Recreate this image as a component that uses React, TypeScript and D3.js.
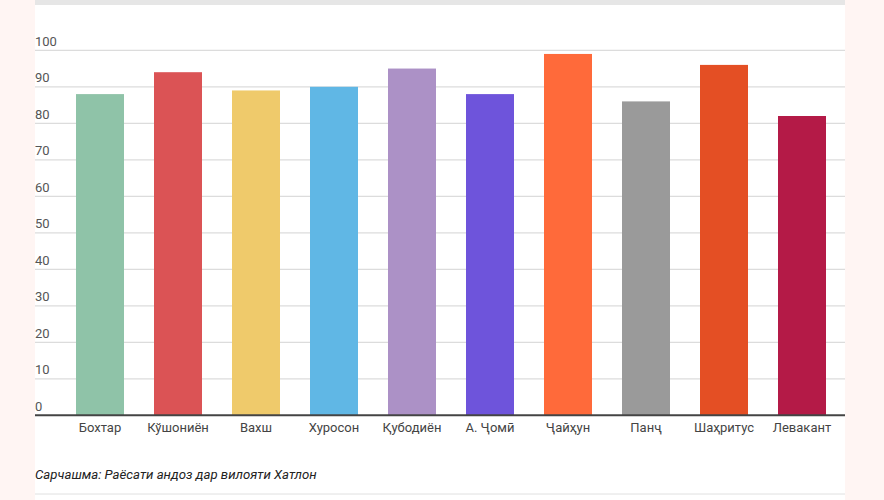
import React from "react";
import * as d3 from "d3";

const categories = ["Бохтар", "Кўшониён", "Вахш", "Хуросон", "Қубодиён", "А. Ҷомӣ", "Ҷайҳун", "Панҷ", "Шаҳритус", "Левакант"];
const values = [88, 94, 89, 90, 95, 88, 99, 86, 96, 82];
const colors = ["#8fc3a8", "#db5355", "#efca6b", "#60b7e5", "#ac91c6", "#6e54db", "#ff6a3a", "#9a9a9a", "#e44f24", "#b41a47"];
const yTicks = [0, 10, 20, 30, 40, 50, 60, 70, 80, 90, 100];
const sourceText = "Сарчашма: Раёсати андоз дар вилояти Хатлон";

const W = 884;
const H = 500;
const left = 35;
const right = 845;

export default function App() {
  const x = d3
    .scaleBand<string>()
    .domain(categories)
    .range([61, 841])
    .paddingInner(30 / 78)
    .paddingOuter(15 / 78);
  const y = d3.scaleLinear().domain([0, 100]).range([415.3, 50.3]);
  const font = "Roboto, 'Noto Sans', sans-serif";

  return (
    <svg width={W} height={H} style={{ position: "absolute", left: 0, top: 0, display: "block" }}>
      <rect x={0} y={0} width={W} height={H} fill="#fff5f3" />
      <rect x={left} y={0} width={right - left} height={H} fill="#ffffff" />
      <rect x={left} y={0} width={right - left} height={5} fill="#e6e6e6" />
      {yTicks.map((t) => (
        <g key={t}>
          {t > 0 && (
            <line x1={left} x2={right} y1={y(t)} y2={y(t)} stroke="#dcdcdc" strokeWidth={1.2} />
          )}
          <text x={left} y={y(t) - 4.5} fontFamily={font} fontSize={13} fill="#555">
            {t}
          </text>
        </g>
      ))}
      {categories.map((c, i) => (
        <rect
          key={c}
          x={x(c)}
          y={y(values[i])}
          width={x.bandwidth()}
          height={y(0) - y(values[i])}
          fill={colors[i]}
        />
      ))}
      <line x1={left} x2={right} y1={y(0)} y2={y(0)} stroke="#444" strokeWidth={2} />
      {categories.map((c) => (
        <text
          key={c}
          x={(x(c) as number) + x.bandwidth() / 2}
          y={432}
          textAnchor="middle"
          fontFamily={font}
          fontSize={13}
          fill="#444"
        >
          {c}
        </text>
      ))}
      <text x={left} y={478.5} fontFamily={font} fontSize={13.2} fontStyle="italic" fill="#222">
        {sourceText}
      </text>
      <line x1={left} x2={right} y1={494} y2={494} stroke="#e0e0e0" strokeWidth={1} />
    </svg>
  );
}
